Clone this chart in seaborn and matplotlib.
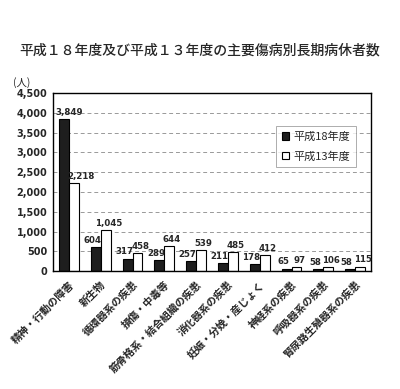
import pandas as pd
import matplotlib.pyplot as plt
import seaborn as sns

# 傷病名と人数
categories = ['精神・行動の障害', '新生物', '循環器系の疾患', '損傷・中毒等',
              '筋骨格系・結合組織の疾患', '消化器系の疾患', '妊娠・分娩・産じょく',
              '神経系の疾患', '呼吸器系の疾患', '腎尿路生殖器系の疾患']
h18 = [3849, 604, 317, 289, 257, 211, 178, 65, 58, 58]
h13 = [2218, 1045, 458, 644, 539, 485, 412, 97, 106, 115]
series = ['平成18年度', '平成13年度']
yticks = [0, 500, 1000, 1500, 2000, 2500, 3000, 3500, 4000, 4500]

df = pd.DataFrame({
    '傷病': categories * 2,
    '人数': h18 + h13,
    '年度': [series[0]] * len(categories) + [series[1]] * len(categories),
})

sns.set_style('white')
plt.rcParams['font.family'] = ['Noto Sans CJK JP', 'DejaVu Sans']

fig = plt.figure(figsize=(4.0, 3.89), dpi=100)
ax = fig.add_axes([0.1325, 0.303, 0.795, 0.458])

sns.barplot(data=df, x='傷病', y='人数', hue='年度', palette=['#1e1e1e', 'white'],
            edgecolor='black', linewidth=0.8, width=0.62, ax=ax)

# 数値ラベル（黒は左寄せ、白は右寄せで重なりを避ける）
for cont, dx, dx0 in zip(ax.containers, [-2.5, 2.0], [3.5, 5.5]):
    anns = ax.bar_label(cont, labels=[f'{v:,.0f}' for v in cont.datavalues],
                        fontsize=6.2, fontweight='bold', padding=1,
                        family='Liberation Sans Narrow')
    for i, a in enumerate(anns):
        a.xyann = (dx if i > 0 else dx0, 1.5)

ax.set_ylim(0, 4500)
ax.set_yticks(yticks)
ax.set_yticklabels([f'{v:,}' for v in yticks], fontsize=7, fontweight='bold',
                   family='Liberation Sans Narrow')
ax.yaxis.grid(True, linestyle=(0, (4, 3)), color='#999999', linewidth=0.7)
ax.set_axisbelow(True)
ax.tick_params(axis='y', length=0, pad=4)
ax.tick_params(axis='x', length=0, pad=6)
ax.set_xticks(range(len(categories)))
ax.set_xticklabels(categories, rotation=45, ha='right', rotation_mode='anchor',
                   fontsize=7.5, fontweight='bold')
ax.set_xlim(-0.5, len(categories) - 0.5)
ax.set_xlabel('')
ax.set_ylabel('')
for s in ax.spines.values():
    s.set_color('black')
    s.set_linewidth(1.0)

ax.text(-0.1, 1.03, '(人)', transform=ax.transAxes, fontsize=7.5, ha='center', va='bottom')

leg = ax.legend(loc='upper right', bbox_to_anchor=(0.953, 0.815), borderaxespad=0,
                fontsize=8, frameon=True, fancybox=False, edgecolor='#888888',
                handlelength=0.7, handleheight=0.7, handletextpad=0.4, borderpad=0.5,
                labelspacing=0.8)
leg.get_frame().set_linewidth(0.6)

fig.text(0.5, 0.87, '平成１８年度及び平成１３年度の主要傷病別長期病休者数',
         ha='center', va='center', fontsize=10, fontweight='medium')

fig.savefig('out.png', dpi=100)
